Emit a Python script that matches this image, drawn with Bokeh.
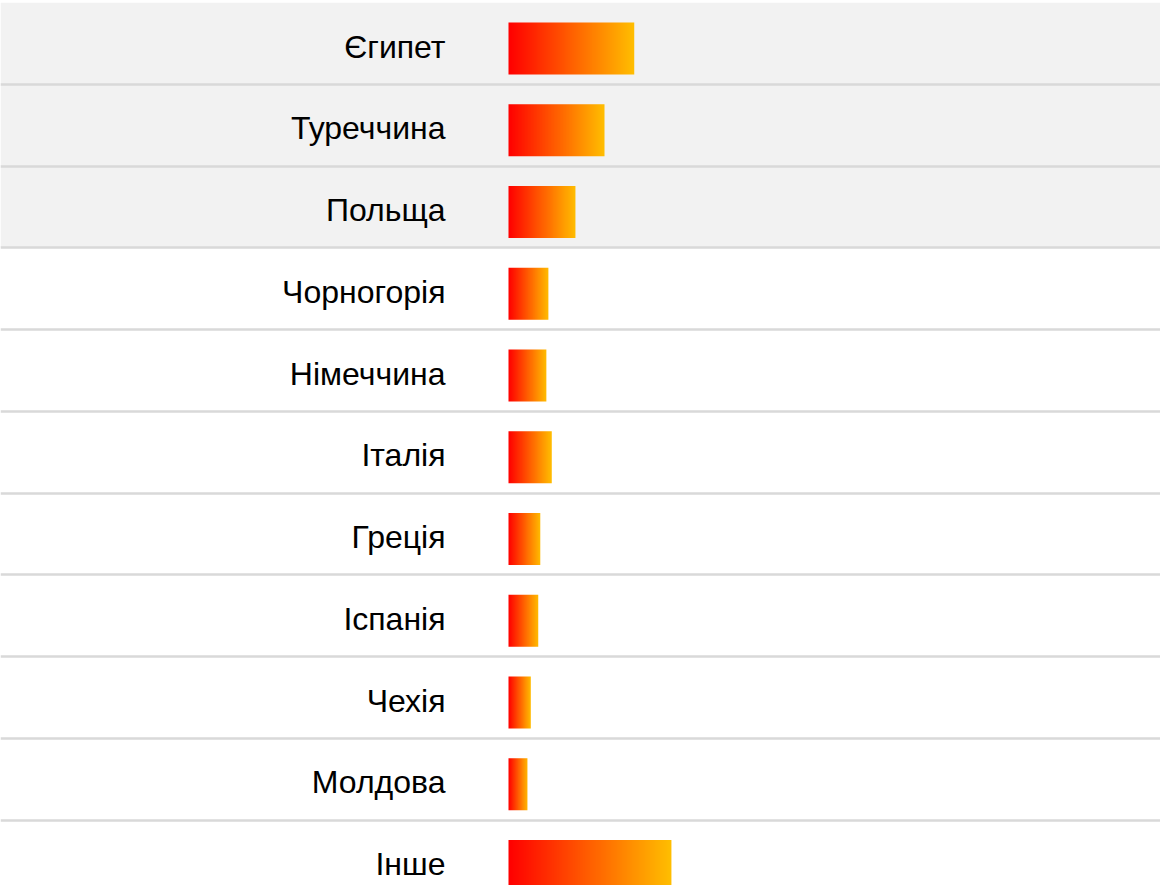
import numpy as np
from bokeh.plotting import figure
from bokeh.models import Range1d, BoxAnnotation, ColumnDataSource
from bokeh.core.properties import value
from bokeh.embed import file_html
from bokeh.resources import INLINE

countries = ["Єгипет", "Туреччина", "Польща", "Чорногорія", "Німеччина", "Італія",
             "Греція", "Іспанія", "Чехія", "Молдова", "Інше"]
shares = [18.6, 14.2, 9.9, 5.9, 5.6, 6.4, 4.7, 4.4, 3.3, 2.8, 24.1]
highlighted_rows = 3

W, H = 1160, 885
ROW = 81.75          # px per row
SCALE = 6.76         # px per unit of value
ZERO_X = 508         # px from left where bars start

x0 = -ZERO_X / SCALE
x1 = (W - ZERO_X) / SCALE
ytop = 43 / ROW
ybot = ytop - H / ROW

p = figure(width=W, height=H, output_backend="svg", toolbar_location=None,
           x_range=Range1d(x0, x1), y_range=Range1d(ybot, ytop),
           min_border=0, outline_line_color=None, background_fill_color="white",
           border_fill_color="white")
p.axis.visible = False
p.grid.visible = False

# gray band behind first rows
p.add_layout(BoxAnnotation(top=0.5, bottom=0.5 - highlighted_rows,
                           fill_color="#f2f2f2", fill_alpha=1, line_color=None,
                           level="underlay"))

n = len(countries)
rows = [-i for i in range(n)]

# separators
sep_y = [r - 0.5 for r in rows[:-1]]
p.hspan(y=sep_y, line_color="#d9d9d9", line_width=2.6)

# gradient image
N = 256
img = np.zeros((1, N), dtype=np.uint32)
view = img.view(dtype=np.uint8).reshape((1, N, 4))
t = np.linspace(0, 1, N)
view[0, :, 0] = 255
view[0, :, 1] = (192 * t).astype(np.uint8)
view[0, :, 2] = 0
view[0, :, 3] = 255

bar_h = 52 / ROW
off = 5 / ROW
src = ColumnDataSource(dict(
    image=[img] * n,
    x=[0] * n,
    y=[r - off - bar_h / 2 for r in rows],
    dw=shares,
    dh=[bar_h] * n,
))
p.image_rgba(image="image", x="x", y="y", dw="dw", dh="dh", source=src)

lsrc = ColumnDataSource(dict(x=[0] * n, y=[r - 3 / ROW for r in rows], t=countries))
p.text(x="x", y="y", text="t", source=lsrc, x_offset=-63,
       text_align="right", text_baseline="middle",
       text_font=value("Liberation Sans"), text_font_size="32px", text_color="#000000")

open("out.html", "w").write(file_html(p, INLINE))
